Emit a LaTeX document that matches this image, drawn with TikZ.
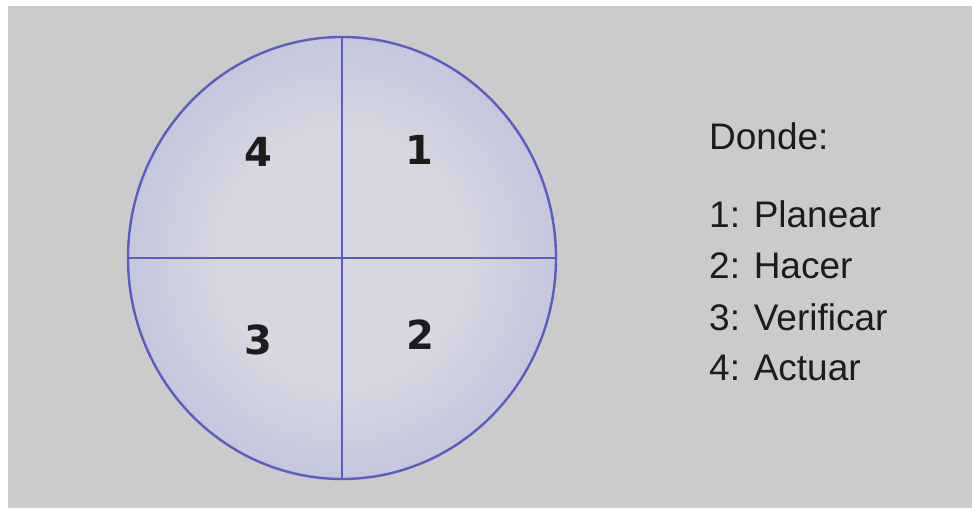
\documentclass[tikz,border=0pt]{standalone}
\usepackage{fontspec}
\setmainfont{Liberation Sans}
\newfontfamily\digitfont{DejaVu Sans}
\usetikzlibrary{shapes.geometric}
\definecolor{paper}{RGB}{203,203,204}
\definecolor{ringblue}{RGB}{90,94,192}
\definecolor{innerfill}{RGB}{214,215,224}
\definecolor{outerfill}{RGB}{158,163,214}
\definecolor{ink}{RGB}{28,28,28}
\pgfdeclareradialshading{discshade}{\pgfpoint{0bp}{0bp}}{color(0bp)=(innerfill); color(14bp)=(innerfill); color(50bp)=(outerfill)}
\begin{document}
\begin{tikzpicture}[x=1pt,y=-1pt,
  disc/.style={ellipse, draw=ringblue, line width=2.4pt, minimum width=428pt, minimum height=442pt, inner sep=0pt, shading=discshade},
  divider/.style={draw=ringblue, line width=2pt},
  quad/.style={font=\digitfont\bfseries\fontsize{40}{40}\selectfont, text=ink, inner sep=0pt},
  legend/.style={font=\fontsize{37}{37}\selectfont, text=ink, anchor=base west, inner sep=0pt}]
\fill[white] (0,0) rectangle (972,513);
\fill[paper] (8,6) rectangle (972,508);
\useasboundingbox (0,0) rectangle (972,513);
\node[disc] (c) at (342,258) {};
\draw[divider] (c.north) -- (c.south);
\draw[divider] (c.west) -- (c.east);
\node[quad] (q4) at (258,152) {4};
\node[quad] (q1) at (419,150) {1};
\node[quad] (q3) at (258,340) {3};
\node[quad] (q2) at (420,335) {2};
\node[legend] (d) at (709,150) {Donde:};
\node[legend] (l1) at (709,228) {1: Planear};
\node[legend] (l2) at (709,279) {2: Hacer};
\node[legend] (l3) at (709,330) {3: Verificar};
\node[legend] (l4) at (709,380) {4: Actuar};
\end{tikzpicture}
\end{document}
